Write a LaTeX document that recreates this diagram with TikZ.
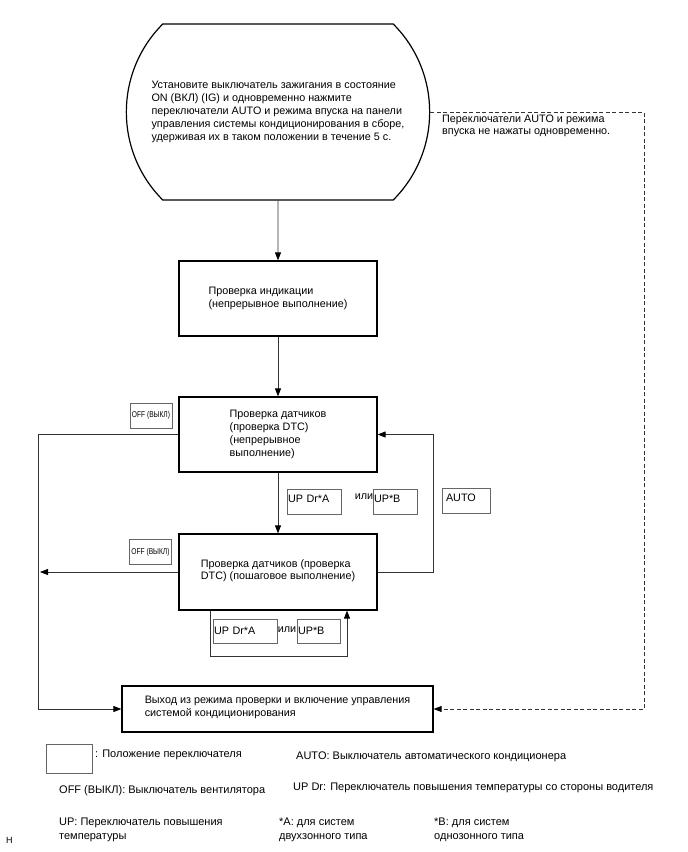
\documentclass[tikz,border=0pt]{standalone}
\usepackage{graphicx}
\usepackage{fontspec}
\setmainfont{Liberation Sans}
\usetikzlibrary{arrows.meta, positioning, shapes.misc}

\newcommand{\offlabel}{\scalebox{0.78}[1]{OFF (ВЫКЛ)}}

\begin{document}
\begin{tikzpicture}[
        x=1pt, y=-1pt,
        font=\fontsize{10.8}{12.8}\selectfont,
        box/.style={draw=black, line width=1.2pt, align=left, minimum width=198pt},
        switch/.style={draw=black!60, line width=1pt, inner sep=1pt, align=left, minimum height=25pt},
        offsw/.style={switch, align=center, font=\fontsize{8.5}{9}\selectfont, minimum width=42pt},
        note/.style={align=left, inner sep=0pt, anchor=west, font=\fontsize{11}{14}\selectfont},
        arrow/.style={-{Triangle[length=8pt, width=6pt, color=black]}, draw=black!80, line width=0.8pt}
    ]
        \useasboundingbox (0,0) rectangle (688,852);

        \node[draw, line width=1.2pt, rounded rectangle, rounded rectangle arc length=90,
            minimum width=310pt, minimum height=176pt, align=left] (start) at (278,112)
            {Установите выключатель зажигания в состояние\\ON (ВКЛ) (IG) и одновременно нажмите\\переключатели AUTO и режима впуска на панели\\управления системы кондиционирования в сборе,\\удерживая их в таком положении в течение 5 с.};
        \node[box, minimum height=75pt] (display) at (278,298.5) {Проверка индикации\\(непрерывное выполнение)};
        \node[box, minimum height=75pt] (sensors) at (278,434.5) {Проверка датчиков\\(проверка DTC)\\(непрерывное\\выполнение)};
        \node[box, minimum height=76pt, text depth=5pt] (stepwise) at (278,572) {Проверка датчиков (проверка\\DTC) (пошаговое выполнение)};
        \node[box, minimum width=311pt, minimum height=46pt, text depth=5pt] (exit) at (277.5,709) {Выход из режима проверки и включение управления\\системой кондиционирования};

        \node[note, anchor=north west, font=\fontsize{10.8}{11.5}\selectfont] (skip) at (442,115) {Переключатели AUTO и режима\\впуска не нажаты одновременно.};

        % switch positions
        \node[offsw] (offa) at (151,415.5) {\offlabel};
        \node[offsw] (offb) at (150.5,552) {\offlabel};
        \node[switch, text width=52pt, text depth=5pt] (updra) at (314,501.5) {UP Dr*A};
        \node (ora) at (364,497) {или};
        \node[switch, text width=42pt, text depth=5pt] (upb) at (395,501.5) {UP*B};
        \node[switch, text width=40pt, inner xsep=4pt, text depth=5pt] (auto) at (466,500.5) {AUTO};
        \node[switch, text width=62pt, minimum height=24pt] (updrb) at (245,631) {UP Dr*A};
        \node (orb) at (287,630) {или};
        \node[switch, text width=41pt, minimum height=24pt] (upbb) at (318.5,631) {UP*B};

        \coordinate (offbus) at (40,572);

        \draw[arrow] (start) -- (display);
        \draw[arrow] (display) -- (sensors);
        \draw[arrow] (sensors) -- (stepwise);
        \draw[arrow] (sensors.west) -- ++(-140,0) |- (exit.west);
        \draw[arrow] (stepwise.west) -- (offbus);
        \draw[arrow] (stepwise.east) -- ++(56,0) |- (sensors.east);
        \draw[arrow] ([xshift=-68pt]stepwise.south) -- ++(0,46) -| ([xshift=69pt]stepwise.south);
        \draw[arrow, dashed, dash pattern=on 4pt off 2.5pt] (start.east) -- ++(214,0) |- (exit.east);

        % legend
        \node[switch, minimum width=46pt, minimum height=29pt] (legbox) at (69,758.5) {};
        \node[note] (legpos) at (95,755) {: Положение переключателя};
        \node[note] (legauto) at (296,757) {AUTO: Выключатель автоматического кондиционера};
        \node[note] (legoff) at (59,791) {OFF (ВЫКЛ): Выключатель вентилятора};
        \node[note] (legupdr) at (293,788) {UP Dr: Переключатель повышения температуры со стороны водителя};
        \node[note] (legup) at (59,830) {UP: Переключатель повышения\\температуры};
        \node[note] (lega) at (279,830) {*A: для систем\\двухзонного типа};
        \node[note] (legb) at (434,830) {*B: для систем\\однозонного типа};
        \node[note, font=\fontsize{9}{10}\selectfont] (mark) at (6,840) {H};
    \end{tikzpicture}
\end{document}
